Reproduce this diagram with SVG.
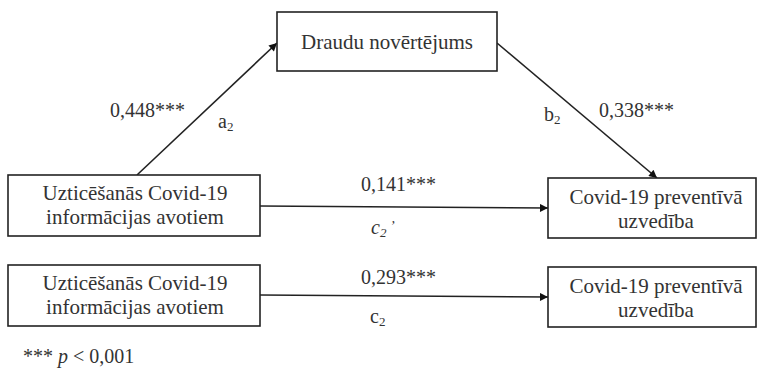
<svg xmlns="http://www.w3.org/2000/svg" width="762" height="374" viewBox="0 0 762 374">
<defs>
<marker id="ah" viewBox="0 0 10 10" refX="10" refY="5" markerWidth="10" markerHeight="8" markerUnits="userSpaceOnUse" orient="auto">
<path d="M0,0 L10,5 L0,10 z" fill="#111"/>
</marker>
<style>
.box{fill:#fff;stroke:#222;stroke-width:1.6}
.t{font-family:"Liberation Serif","Times New Roman",serif;font-size:21px;fill:#333;text-anchor:middle}
.l{font-family:"Liberation Serif","Times New Roman",serif;font-size:20px;fill:#333}
.e{stroke:#222;stroke-width:1.6;fill:none;marker-end:url(#ah)}
</style>
</defs>
<rect width="762" height="374" fill="#fff"/>
<g id="connectors">
<line class="e" x1="137" y1="175" x2="277" y2="43"/>
<line class="e" x1="497" y1="43" x2="657" y2="178"/>
<line class="e" x1="260" y1="206" x2="548" y2="208"/>
<line class="e" x1="260" y1="295" x2="548" y2="297"/>
<text class="l" x="110" y="117">0,448***</text>
<text class="l" x="218" y="128">a<tspan font-size="13" dy="3">2</tspan></text>
<text class="l" x="544" y="121">b<tspan font-size="13" dy="3">2</tspan></text>
<text class="l" x="599" y="117">0,338***</text>
<text class="l" x="361" y="191">0,141***</text>
<text class="l" x="371" y="234" font-style="italic">c<tspan font-size="13" dy="3">2</tspan><tspan dy="-6" font-size="14"> ’</tspan></text>
<text class="l" x="361" y="284">0,293***</text>
<text class="l" x="370" y="323">c<tspan font-size="13" dy="3">2</tspan></text>
</g>
<g id="mediator">
<rect class="box" x="277" y="12" width="220" height="59"/>
<text class="t" x="387" y="49">Draudu novērtējums</text>
</g>
<g id="predictor1">
<rect class="box" x="8" y="175" width="252" height="61"/>
<text class="t" x="135" y="200">Uzticēšanās Covid-19</text>
<text class="t" x="135" y="224">informācijas avotiem</text>
</g>
<g id="outcome1">
<rect class="box" x="548" y="178" width="208" height="60"/>
<text class="t" x="656" y="204">Covid-19 preventīvā</text>
<text class="t" x="656" y="228">uzvedība</text>
</g>
<g id="predictor2">
<rect class="box" x="8" y="265" width="252" height="61"/>
<text class="t" x="135" y="290">Uzticēšanās Covid-19</text>
<text class="t" x="135" y="314">informācijas avotiem</text>
</g>
<g id="outcome2">
<rect class="box" x="548" y="267" width="208" height="60"/>
<text class="t" x="656" y="293">Covid-19 preventīvā</text>
<text class="t" x="656" y="317">uzvedība</text>
</g>
<text class="l" x="23" y="363">*** <tspan font-style="italic">p</tspan> &lt; 0,001</text>
</svg>
